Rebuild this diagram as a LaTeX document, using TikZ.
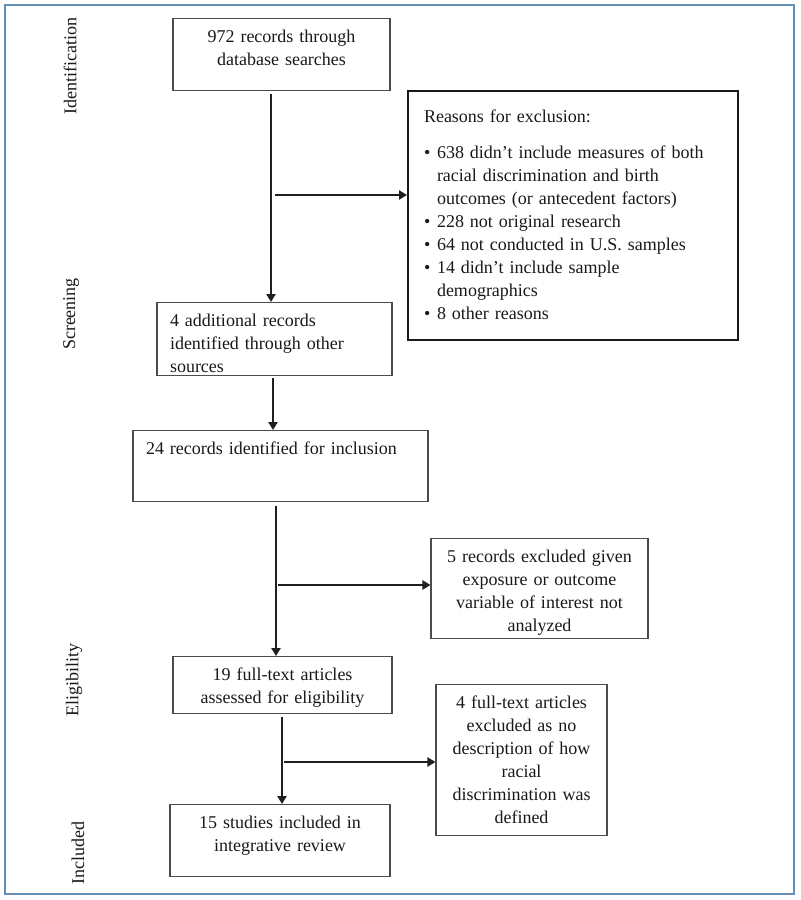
\documentclass[tikz,border=0pt]{standalone}
\usepackage{fontspec}
\setmainfont{Liberation Serif}
\usetikzlibrary{arrows.meta}
\definecolor{framecol}{RGB}{100,142,182}
\newcommand{\reason}[1]{\par\hangindent=6.5pt\hangafter=1\noindent\makebox[6.5pt][l]{\textbullet}#1}

\begin{document}
\begin{tikzpicture}[x=0.5pt, y=-0.5pt,
  font=\fontsize{9}{11.5}\selectfont, text=black!90,
  box/.style={draw=black!70, line width=0.55pt, anchor=north, inner ysep=3pt, text height=9pt, align=center},
  midbox/.style={box, inner xsep=4pt},
  leftbox/.style={box, align=left, inner xsep=6.5pt},
  arr/.style={line width=0.95pt, draw=black!88, -{Triangle[length=4pt,width=4.6pt]}},
  stage/.style={rotate=90}]
\useasboundingbox (0,0) rectangle (800,900);
\draw[framecol, line width=0.8pt] (5,5) rectangle (794,894);

% stages
\node[stage] (identification) at (70,66) {Identification};
\node[stage] (screening) at (71,314) {Screening};
\node[stage] (eligibility) at (74,680) {Eligibility};
\node[stage] (includedlbl) at (78,853) {Included};

% main column
\node[midbox, text width=100.5pt, text depth=21pt] (records) at (281.5,18) {972 records through\\database searches};
\node[leftbox, text width=104.5pt, text depth=21.5pt] (additional) at (274.5,302) {4 additional records\\identified through other\\sources};
\node[leftbox, text width=134.5pt, text depth=20.5pt] (included) at (280.5,430) {24 records identified for inclusion};
\node[midbox, text width=101.5pt, text depth=13.5pt] (fulltext) at (282.5,656) {19 full-text articles\\assessed for eligibility};
\node[midbox, text width=102pt, text depth=21pt] (studies) at (280,804) {15 studies included in\\integrative review};

% exclusions
\node[box, draw=black!90, line width=1pt, align=left, inner xsep=8pt, text width=149pt, text height=12.5pt, text depth=106pt] (reasons) at (573,90) {Reasons for exclusion:\par\vspace{6.8pt}%
\reason{638 didn't include measures of both\newline racial discrimination and birth\newline outcomes (or antecedent factors)}%
\reason{228 not original research}%
\reason{64 not conducted in U.S. samples}%
\reason{14 didn't include sample\newline demographics}%
\reason{8 other reasons}};
\node[midbox, text width=100.5pt, text depth=35pt] (excl5) at (539.5,538) {5 records excluded given\\exposure or outcome\\variable of interest not\\analyzed};
\node[midbox, text width=77.5pt, text depth=60.5pt] (excl4) at (521.5,684) {4 full-text articles\\excluded as no\\description of how\\racial\\discrimination was\\defined};

% arrows
\coordinate (spineA) at (271,0);
\coordinate (forkA) at (275,195);
\draw[arr, shorten <=1.5pt] (records.south -| spineA) -- (additional.north -| spineA);
\draw[arr] (forkA) -- (reasons.west |- forkA);
\coordinate (spineB) at (273,0);
\draw[arr, shorten <=1pt] (additional.south -| spineB) -- (included.north -| spineB);
\coordinate (spineC) at (276,0);
\coordinate (forkC) at (278,585);
\draw[arr, shorten <=2pt] (included.south -| spineC) -- (fulltext.north -| spineC);
\draw[arr] (forkC) -- (excl5.west |- forkC);
\coordinate (spineD) at (282,0);
\coordinate (forkD) at (284,762);
\draw[arr, shorten <=1.5pt] (fulltext.south -| spineD) -- (studies.north -| spineD);
\draw[arr] (forkD) -- (excl4.west |- forkD);
\end{tikzpicture}
\end{document}
